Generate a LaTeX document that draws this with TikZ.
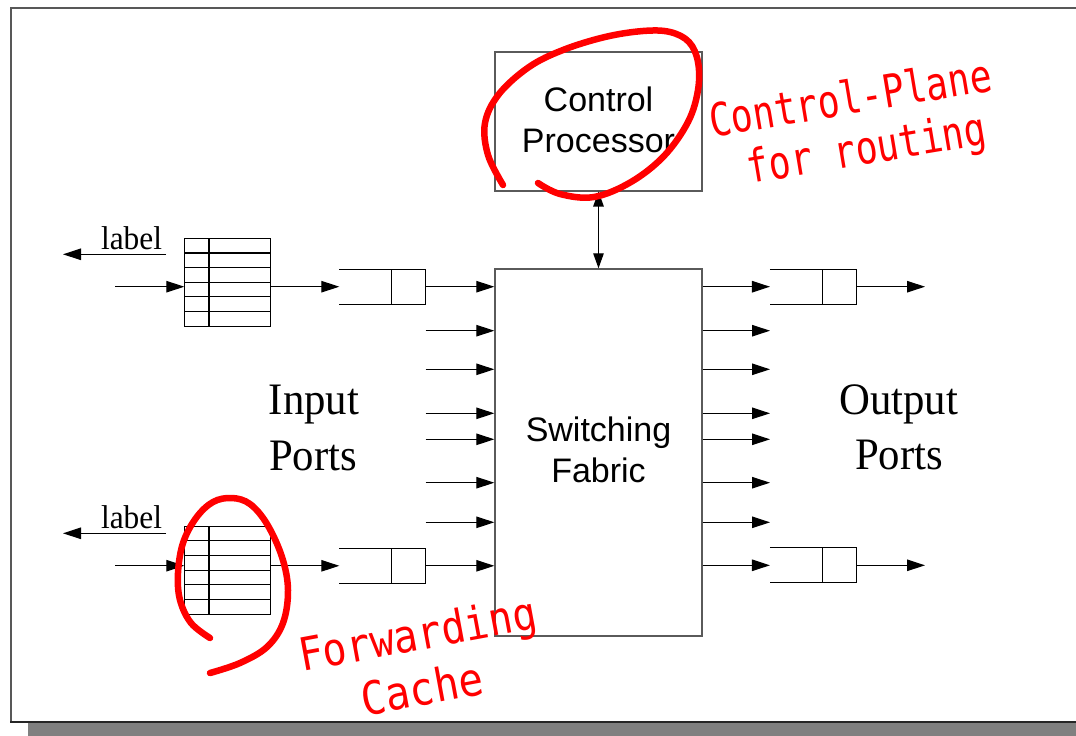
\documentclass[tikz,border=0pt]{standalone}
\usepackage{fontspec}
\setmainfont{Liberation Serif}
\newfontfamily\sansf{Liberation Sans}
\newfontfamily\annof{DejaVu Sans Mono}
\usetikzlibrary{arrows.meta,calc}
\definecolor{annored}{RGB}{255,0,0}
\definecolor{framegray}{RGB}{88,88,88}
\definecolor{shadowgray}{RGB}{128,128,128}
\definecolor{boxgray}{RGB}{90,90,90}
\begin{document}
\begin{tikzpicture}[x=1pt,y=-1pt,
  conn/.style={line width=1.1pt,-{Triangle[length=18pt,width=11.5pt]}},
  biconn/.style={line width=1.1pt,{Triangle[length=15pt,width=10.5pt]}-{Triangle[length=15pt,width=10.5pt]}},
  graybox/.style={draw=boxgray,line width=1.4pt,inner sep=0pt},
  hidden/.style={inner sep=0pt,outer sep=0pt},
  qline/.style={line width=1.1pt,black},
  sanslbl/.style={inner sep=0pt,font=\fontsize{34}{40}\selectfont\sansf},
  seriflbl/.style={inner sep=0pt,font=\fontsize{45}{54}\selectfont},
  smalllbl/.style={inner sep=0pt,font=\fontsize{33}{40}\selectfont},
  anno/.style={inner sep=0pt,text=annored},
  loop/.style={annored,line width=6.5pt,line cap=round,line join=round}
]
\useasboundingbox (0,0) rectangle (1076,736);
% page frame with shadow
\fill[shadowgray] (28,723) rectangle (1076,736);
\draw[framegray,line width=2pt] (1080,8) -- (11,8) -- (11,722);
\draw[black!85,line width=2pt] (10,722) -- (1080,722);

% main boxes
\node[graybox,minimum width=207pt,minimum height=139pt] (cp) at (598.5,121.3) {};
\node[sanslbl,anchor=base] (cpt1) at (598.5,111) {Control};
\node[sanslbl,anchor=base] (cpt2) at (598.5,152.3) {Processor};
\node[graybox,minimum width=207pt,minimum height=367pt] (fab) at (598.5,452.5) {};
\node[sanslbl,anchor=base] (fabt1) at (598.5,441.7) {Switching};
\node[sanslbl,anchor=base] (fabt2) at (598.5,482.7) {Fabric};
\draw[biconn] (cp.south) -- (fab.north);

% port labels
\node[seriflbl,anchor=base] (inl1) at (314,414) {\scalebox{0.95}[1]{Input}};
\node[seriflbl,anchor=base] (inl2) at (313,470) {\scalebox{0.95}[1]{Ports}};
\node[seriflbl,anchor=base] (outl1) at (898.5,414.3) {\scalebox{0.95}[1]{Output}};
\node[seriflbl,anchor=base] (outl2) at (899,469) {\scalebox{0.95}[1]{Ports}};

% forwarding tables
\node[hidden,draw,line width=1.1pt,minimum width=86.4pt,minimum height=87.7pt] (tab1) at (227.5,282.2) {};
\node[hidden,draw,line width=1.1pt,minimum width=86.4pt,minimum height=88.3pt] (tab2) at (227.5,570.2) {};
\foreach \t in {tab1,tab2}{
  \foreach \i in {1,...,5}{
    \draw[qline] ($(\t.north west)!\i/6!(\t.south west)$) -- ($(\t.north east)!\i/6!(\t.south east)$);
  }
  \draw[qline] ($(\t.north west)!0.286!(\t.north east)$) -- ($(\t.south west)!0.286!(\t.south east)$);
}

% queues (open on the left)
\node[hidden,minimum width=86.4pt,minimum height=34.7pt] (iq1) at (382.5,286.7) {};
\node[hidden,minimum width=86.4pt,minimum height=35pt] (iq2) at (382.5,565.8) {};
\node[hidden,minimum width=86.7pt,minimum height=34.7pt] (oq1) at (813.3,286.7) {};
\node[hidden,minimum width=86.7pt,minimum height=35pt] (oq2) at (813.3,565.3) {};
\foreach \q in {iq1,iq2,oq1,oq2}{
  \draw[qline] (\q.north west) -- (\q.north east) -- (\q.south east) -- (\q.south west);
  \draw[qline] ($(\q.north east)+(-34.2,0)$) -- ($(\q.south east)+(-34.2,0)$);
}

% label outputs and table inputs
\node[smalllbl,anchor=base] (lab1) at (131.5,249) {\scalebox{0.95}[1]{label}};
\node[smalllbl,anchor=base] (lab2) at (131.5,528) {\scalebox{0.95}[1]{label}};
\coordinate (ls1) at (166,254.3);
\coordinate (le1) at (63,254.3);
\coordinate (ls2) at (166,533.3);
\coordinate (le2) at (63,533.3);
\draw[conn] (ls1) -- (le1);
\draw[conn] (ls2) -- (le2);
\coordinate (src1) at (115,286.7);
\coordinate (src2) at (115,565.7);
\draw[conn] (src1) -- (src1 -| tab1.west);
\draw[conn] (src2) -- (src2 -| tab2.west);
\draw[conn] (tab1.east |- iq1.west) -- (iq1.west);
\draw[conn] (tab2.east |- iq2.west) -- (iq2.west);

% inputs to fabric
\draw[conn] (iq1.east) -- (iq1.east -| fab.west);
\draw[conn] (iq2.east) -- (iq2.east -| fab.west);
\foreach \n/\y in {a/330.7,b/369.3,c/413.3,d/439.3,e/482.7,f/522.3}{
  \coordinate (in\n) at (425.7,\y);
  \draw[conn] (in\n) -- (in\n -| fab.west);
}

% outputs from fabric
\draw[conn] (fab.east |- oq1.west) -- (oq1.west);
\draw[conn] (fab.east |- oq2.west) -- (oq2.west);
\foreach \n/\y in {a/330.7,b/369.3,c/413.3,d/439.3,e/482.7,f/522.3}{
  \coordinate (out\n) at (770,\y);
  \draw[conn] (out\n -| fab.east) -- (out\n);
}
\coordinate (sink1) at (925,286.7);
\coordinate (sink2) at (925,565.3);
\draw[conn] (oq1.east) -- (sink1);
\draw[conn] (oq2.east) -- (sink2);

% red annotations
\draw[loop] plot[smooth,tension=0.6] coordinates {(503,185) (488,155) (485,123) (499,94) (529,67) (563,50) (605,37) (643,31) (670,32) (689,42) (698,62) (698,90) (688,122) (664,156) (631,182) (594,197) (560,194) (538,183)};
\draw[loop] plot[smooth,tension=0.6] coordinates {(210,638) (191,623) (180,600) (178,573) (183,543) (196,518) (213,502) (232,498) (250,504) (267,524) (282,557) (288,590) (283,623) (267,647) (240,663) (210,673)};

\node[anno,anchor=base,rotate=9.5] (cpa1) at (853,114) {\scalebox{1}[1.25]{\fontsize{36.5}{40}\selectfont\annof Control-Plane}};
\node[anno,anchor=base,rotate=9.5] (cpa2) at (869,164) {\scalebox{1}[1.25]{\fontsize{36.5}{40}\selectfont\annof for routing}};
\node[anno,anchor=base,rotate=10.5] (fca1) at (420.5,650) {\scalebox{1}[1.14]{\fontsize{40}{44}\selectfont\annof Forwarding}};
\node[anno,anchor=base,rotate=10.5] (fca2) at (425,704.8) {\scalebox{1}[1.12]{\fontsize{41}{44}\selectfont\annof Cache}};
\end{tikzpicture}
\end{document}
